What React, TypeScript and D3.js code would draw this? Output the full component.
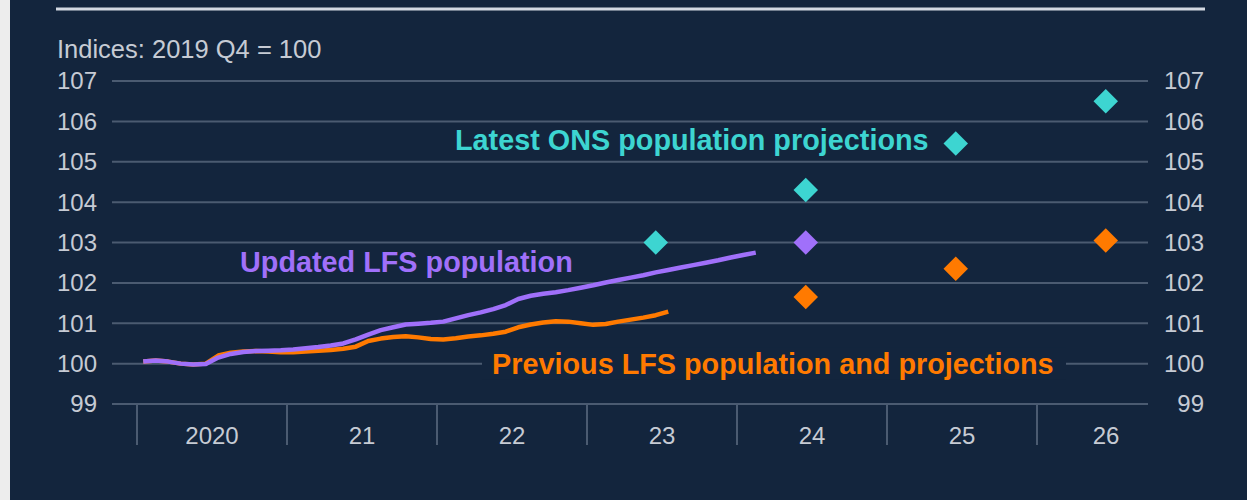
import React from "react";
import * as d3 from "d3";

// monthly LFS population indices, Jan 2020 onwards (2019 Q4 = 100)
const updatedLfs = [
	100.05, 100.08, 100.05, 100.0, 99.98, 99.99, 100.15, 100.24, 100.29, 100.31, 100.32, 100.33,
	100.35, 100.38, 100.41, 100.45, 100.5, 100.6, 100.72, 100.83, 100.9, 100.97, 100.99, 101.01,
	101.04, 101.12, 101.2, 101.27, 101.35, 101.45, 101.6, 101.68, 101.73, 101.77, 101.82, 101.88,
	101.94, 102.01, 102.07, 102.13, 102.19, 102.26, 102.32, 102.38, 102.44, 102.5, 102.56, 102.63,
	102.69, 102.75,
];
const previousLfs = [
	100.05, 100.08, 100.05, 100.0, 99.98, 100.0, 100.2, 100.27, 100.3, 100.31, 100.3, 100.28,
	100.28, 100.3, 100.32, 100.34, 100.37, 100.42, 100.56, 100.62, 100.66, 100.68, 100.65, 100.61,
	100.6, 100.63, 100.67, 100.7, 100.74, 100.79, 100.9, 100.97, 101.02, 101.05, 101.04, 101.0,
	100.96, 100.98, 101.04, 101.09, 101.14, 101.2, 101.29,
];
const startYear = 2020;

// mid-year projections
const projYears = [2023, 2024, 2025, 2026];
const onsLatest = [103.0, 104.3, 105.45, 106.5];
const prevProjections = [null, 101.65, 102.35, 103.05];
const updatedProjYears = [2024];
const updatedProjections = [103.0];

const yTicks = [99, 100, 101, 102, 103, 104, 105, 106, 107];
const xYears = [2020, 2021, 2022, 2023, 2024, 2025, 2026];
const xLabels = ["2020", "21", "22", "23", "24", "25", "26"];

const W = 1247;
const H = 500;
const BG = "#13253d";
const GRID = "#4b5b71";
const TXT = "#c6cbd4";
const CYAN = "#3dd5d1";
const PURPLE = "#a070fa";
const ORANGE = "#ff7a00";
const FONT = "'Liberation Sans', Arial, sans-serif";

const App: React.FC = () => {
	const x = d3.scaleLinear().domain([2020, 2027]).range([137, 1187]);
	const y = d3.scaleLinear().domain([99, 107]).range([404, 81]);
	const gridL = 112;
	const gridR = 1148;

	const monthX = (i: number) => x(startYear + (i + 0.5) / 12);
	const midYear = (yr: number) => x(yr + 5.5 / 12);

	const line = d3
		.line<number>()
		.x((_, i) => monthX(i))
		.y((d) => y(d));

	const diamond = d3.symbol(d3.symbolSquare, 300)();

	const Diamond = ({ cx, cy, fill }: { cx: number; cy: number; fill: string }) => (
		<path d={diamond!} transform={`translate(${cx},${cy}) rotate(45)`} fill={fill} />
	);

	return (
		<div style={{ position: "fixed", left: 0, top: 0 }}>
			<svg width={W} height={H} style={{ display: "block" }}>
				<rect x={0} y={0} width={W} height={H} fill="#ededed" />
				<rect x={10} y={0} width={W - 10} height={H} fill={BG} />
				<line x1={56} x2={1205} y1={9} y2={9} stroke="#d3d9e2" strokeWidth={3} />

				<text x={57} y={58} fill={TXT} fontFamily={FONT} fontSize={25.5}>
					Indices: 2019 Q4 = 100
				</text>

				{yTicks.map((t) => (
					<g key={t}>
						<line x1={gridL} x2={gridR} y1={y(t)} y2={y(t)} stroke={GRID} strokeWidth={2} />
						<text x={97} y={y(t)} dy="0.35em" textAnchor="end" fill={TXT} fontFamily={FONT} fontSize={24}>
							{t}
						</text>
						<text x={1204} y={y(t)} dy="0.35em" textAnchor="end" fill={TXT} fontFamily={FONT} fontSize={24}>
							{t}
						</text>
					</g>
				))}

				{xYears.map((yr, i) => (
					<g key={yr}>
						<line x1={x(yr)} x2={x(yr)} y1={y(99)} y2={445} stroke={GRID} strokeWidth={2} />
						<text
							x={i === xYears.length - 1 ? (x(yr) + gridR + 27) / 2 : x(yr + 0.5)}
							y={444}
							textAnchor="middle"
							fill={TXT}
							fontFamily={FONT}
							fontSize={24}
						>
							{xLabels[i]}
						</text>
					</g>
				))}

				<path d={line(previousLfs)!} fill="none" stroke={ORANGE} strokeWidth={4.5} strokeLinejoin="round" />
				<path d={line(updatedLfs)!} fill="none" stroke={PURPLE} strokeWidth={4.5} strokeLinejoin="round" />

				{projYears.map((yr, i) => (
					<Diamond key={"ons" + yr} cx={midYear(yr)} cy={y(onsLatest[i])} fill={CYAN} />
				))}
				{projYears.map((yr, i) =>
					prevProjections[i] == null ? null : (
						<Diamond key={"prev" + yr} cx={midYear(yr)} cy={y(prevProjections[i] as number)} fill={ORANGE} />
					)
				)}
				{updatedProjYears.map((yr, i) => (
					<Diamond key={"upd" + yr} cx={midYear(yr)} cy={y(updatedProjections[i])} fill={PURPLE} />
				))}

				<text x={455} y={150} fill={CYAN} fontFamily={FONT} fontSize={28.8} fontWeight="bold">
					Latest ONS population projections
				</text>
				<text x={240} y={272} fill={PURPLE} fontFamily={FONT} fontSize={28.8} fontWeight="bold">
					Updated LFS population
				</text>
				<rect x={482} y={y(100) - 16} width={584} height={32} fill={BG} />
				<text x={492} y={y(100)} dy="0.35em" fill={ORANGE} fontFamily={FONT} fontSize={28.8} fontWeight="bold">
					Previous LFS population and projections
				</text>
			</svg>
		</div>
	);
};

export default App;
